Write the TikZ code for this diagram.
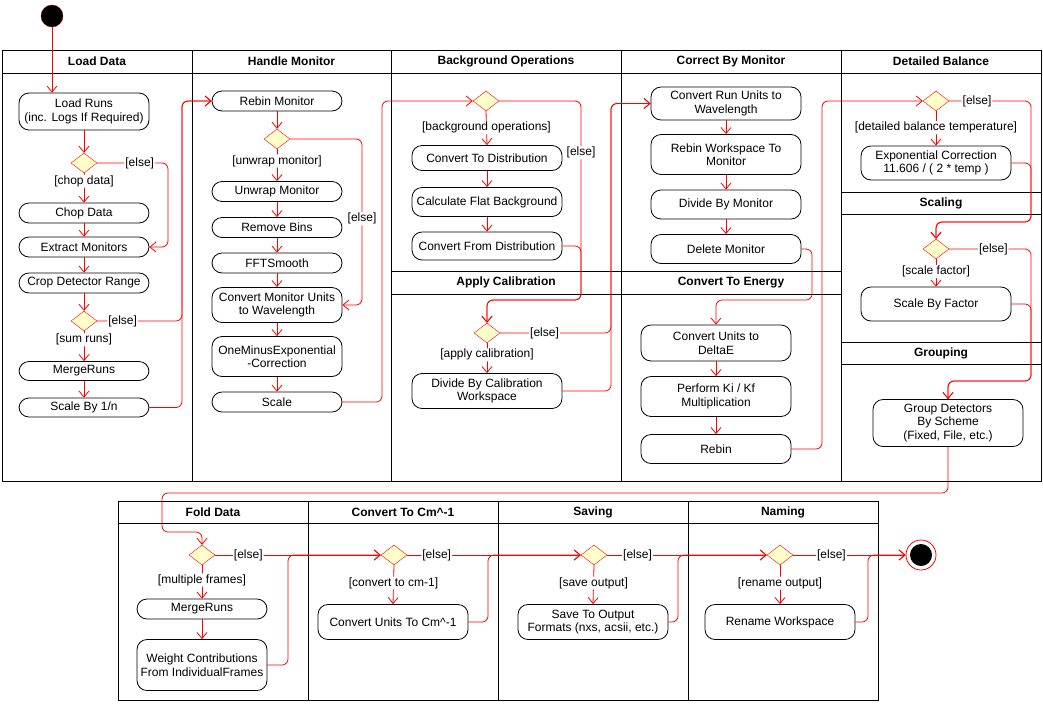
\documentclass[tikz,border=0pt]{standalone}
\usepackage{fontspec}
\setmainfont{Liberation Sans}
\usetikzlibrary{shapes.geometric,arrows.meta}
\definecolor{decfill}{RGB}{255,255,204}

\begin{document}
\begin{tikzpicture}[x=1pt, y=-1pt,
    font=\fontsize{12}{13.5}\selectfont,
    act/.style={draw, line width=0.8pt, rounded corners=10pt, fill=white, align=center, inner sep=1pt, minimum width=150pt},
    dec/.style={diamond, draw=red, fill=decfill, minimum width=26pt, minimum height=20pt, inner sep=0pt},
    flow/.style={draw=red, line width=0.8pt, rounded corners=6pt, -{Straight Barb[length=6pt,width=10pt]}},
    guard/.style={fill=white, text=black, inner sep=1pt},
    lane/.style={draw, line width=0.9pt},
    title/.style={font=\fontsize{12}{13.5}\selectfont\bfseries}]
            \useasboundingbox (0,0) rectangle (1043,705);

            % Top swimlanes
            \draw[lane] (2,50) rectangle (1041,481);
            \draw[lane] (2,73) -- (1041,73);
            \foreach \x in {192,391,621,841} \draw[lane] (\x,50) -- (\x,481);
            \draw[lane] (391,271) -- (841,271) (391,294) -- (841,294);
            \draw[lane] (841,192) -- (1041,192) (841,214) -- (1041,214);
            \draw[lane] (841,342) -- (1041,342) (841,364) -- (1041,364);
            \node[title] (hload) at (97,61.5) {Load Data};
            \node[title] (hmon) at (291.5,61.5) {Handle Monitor};
            \node[title] (hbg) at (506,61.5) {Background Operations};
            \node[title] (hcorr) at (731,61.5) {Correct By Monitor};
            \node[title] (hdb) at (941,61.5) {Detailed Balance};
            \node[title] (hcal) at (506,282.5) {Apply Calibration};
            \node[title] (hen) at (731,282.5) {Convert To Energy};
            \node[title] (hscale) at (941,203) {Scaling};
            \node[title] (hgroup) at (941,353) {Grouping};

            % Bottom swimlanes
            \draw[lane] (118,501) rectangle (878,700);
            \draw[lane] (118,523) -- (878,523);
            \foreach \x in {308,498,688} \draw[lane] (\x,501) -- (\x,700);
            \node[title] (hfold) at (213,512) {Fold Data};
            \node[title] (hcm) at (403,512) {Convert To Cm\textasciicircum-1};
            \node[title] (hsave) at (593,512) {Saving};
            \node[title] (hname) at (783,512) {Naming};

            % Start and end
            \node[circle, fill=black, draw=red!60!black, minimum size=22pt, inner sep=0pt] (start) at (52,16) {};
            \node[circle, draw=red, fill=white, line width=0.8pt, minimum size=30pt, inner sep=0pt] (stop) at (921,555) {};
            \fill (stop.center) circle (11pt);

            % Load Data
            \node[act, minimum width=130pt, minimum height=37pt] (loadruns) at (84,111.5) {Load Runs\\(inc. Logs If Required)};
            \node[dec] (chopdec) at (84,163) {};
            \node[act, minimum width=130pt, minimum height=20pt] (chopdata) at (84,213) {Chop Data};
            \node[act, minimum width=130pt, minimum height=20pt] (extract) at (84,247) {Extract Monitors};
            \node[act, minimum width=130pt, minimum height=20pt] (crop) at (84,283) {Crop Detector Range};
            \node[dec] (sumdec) at (84,321) {};
            \node[act, minimum width=130pt, minimum height=19pt] (merge) at (84,371) {MergeRuns};
            \node[act, minimum width=130pt, minimum height=19pt] (scalen) at (84,407.5) {Scale By 1/n};

            % Handle Monitor
            \node[act, minimum width=130pt, minimum height=20pt] (rebinmon) at (277,101) {Rebin Monitor};
            \node[dec] (unwrapdec) at (277,139) {};
            \node[act, minimum width=130pt, minimum height=20pt] (unwrap) at (277,191.5) {Unwrap Monitor};
            \node[act, minimum width=130pt, minimum height=20pt] (removebins) at (277,227.5) {Remove Bins};
            \node[act, minimum width=130pt, minimum height=20pt] (fftsmooth) at (277,263) {FFTSmooth};
            \node[act, minimum width=130pt, minimum height=35pt] (convmon) at (277,305) {Convert Monitor Units\\to Wavelength};
            \node[act, minimum width=130pt, minimum height=40pt] (oneminus) at (277,356.5) {OneMinusExponential\\-Correction};
            \node[act, minimum width=130pt, minimum height=20pt] (scalemon) at (277,402) {Scale};

            % Background Operations and Apply Calibration
            \node[dec] (bgdec) at (486,101) {};
            \node[act, minimum height=25pt] (todist) at (487,158) {Convert To Distribution};
            \node[act, minimum height=29pt] (flatbg) at (487,202) {Calculate Flat Background};
            \node[act, minimum height=28pt] (fromdist) at (487,246) {Convert From Distribution};
            \node[dec] (caldec) at (487,333) {};
            \node[act, minimum height=35pt] (divcal) at (487,391) {Divide By Calibration\\Workspace};

            % Correct By Monitor and Convert To Energy
            \node[act, minimum height=33pt] (convrun) at (726,103.5) {Convert Run Units to\\Wavelength};
            \node[act, minimum height=40pt] (rebinws) at (726,154.5) {Rebin Workspace To\\Monitor};
            \node[act, minimum height=29pt] (divmon) at (726,204.5) {Divide By Monitor};
            \node[act, minimum height=29pt] (delmon) at (726,249) {Delete Monitor};
            \node[act, minimum height=36pt] (convdeltae) at (716,343) {Convert Units to\\DeltaE};
            \node[act, minimum height=40pt] (kikf) at (716,396.5) {Perform Ki / Kf\\Multiplication};
            \node[act, minimum height=29pt] (rebin) at (716,449) {Rebin};

            % Detailed Balance, Scaling, Grouping
            \node[dec] (dbdec) at (936,101) {};
            \node[act, minimum height=34pt] (expcorr) at (936,163) {Exponential Correction\\11.606 / ( 2 * temp )};
            \node[dec] (scaledec) at (936,249) {};
            \node[act, minimum height=34pt] (scalefac) at (936,304) {Scale By Factor};
            \node[act, minimum height=47pt] (group) at (948,423) {Group Detectors\\By Scheme\\(Fixed, File, etc.)};

            % Fold Data, Convert To Cm^-1, Saving, Naming
            \node[dec] (folddec) at (202,555) {};
            \node[act, minimum width=130pt, minimum height=20pt] (mergefold) at (202,609) {MergeRuns};
            \node[act, minimum width=130pt, minimum height=51pt] (weight) at (202,665) {Weight Contributions\\From IndividualFrames};
            \node[dec] (cmdec) at (394,555) {};
            \node[act, minimum height=35pt] (convcm) at (393,622) {Convert Units To Cm\textasciicircum-1};
            \node[dec] (savedec) at (594,555) {};
            \node[act, minimum height=35pt] (save) at (593,622) {Save To Output\\Formats (nxs, acsii, etc.)};
            \node[dec] (namedec) at (780,555) {};
            \node[act, minimum height=35pt] (rename) at (780,622) {Rename Workspace};

            % Bend points of the flows
            \coordinate (rchop) at (168,247);
            \coordinate (r1) at (182,101);
            \coordinate (r2) at (362,305);
            \coordinate (r3) at (382,101);
            \coordinate (r4) at (581,300);
            \coordinate (r5) at (611,103.5);
            \coordinate (r6) at (812,300);
            \coordinate (r7) at (822,101);
            \coordinate (r8) at (1031,222);
            \coordinate (r9) at (1031,381);
            \coordinate (r10) at (162,493);
            \coordinate (r11) at (162,532);
            \coordinate (r12) at (288,555);
            \coordinate (r13) at (488,555);
            \coordinate (r14) at (678,555);
            \coordinate (r15) at (868,555);

            % Load Data flows
            \draw[flow] (start) -- (start |- loadruns.north);
            \draw[flow] (loadruns.south) -- (chopdec.north);
            \draw[flow] (chopdec.south) -- node[guard, pos=0.27] (gchop) {[chop data]} (chopdata.north);
            \draw[flow] (chopdec.east) -| node[guard, pos=0.3] (echop) {[else]} (rchop) -- (extract.east);
            \draw[flow] (chopdata.south) -- (extract.north);
            \draw[flow] (extract.south) -- (crop.north);
            \draw[flow] (crop.south) -- (sumdec.north);
            \draw[flow] (sumdec.south) -- node[guard, pos=0.29] (gsum) {[sum runs]} (merge.north);
            \draw[flow] (merge.south) -- (scalen.north);
            \draw[flow] (scalen.east) -| (r1) -- (rebinmon.west);
            \draw[flow] (sumdec.east) -| node[guard, pos=0.15] (esum) {[else]} (r1) -- (rebinmon.west);

            % Handle Monitor flows
            \draw[flow] (rebinmon.south) -- (unwrapdec.north);
            \draw[flow] (unwrapdec.south) -- node[guard, pos=0.37] (gunwrap) {[unwrap monitor]} (unwrap.north);
            \draw[flow] (unwrapdec.east) -| node[guard, pos=0.74] (eunwrap) {[else]} (r2) -- (convmon.east);
            \draw[flow] (unwrap.south) -- (removebins.north);
            \draw[flow] (removebins.south) -- (fftsmooth.north);
            \draw[flow] (fftsmooth.south) -- (convmon.north);
            \draw[flow] (convmon.south) -- (oneminus.north);
            \draw[flow] (oneminus.south) -- (scalemon.north);
            \draw[flow] (scalemon.east) -| (r3) -- (bgdec.west);

            % Background and calibration flows
            \draw[flow] (bgdec.south) -- node[guard, pos=0.48] (gbg) {[background operations]} (todist.north);
            \draw[flow] (todist.south) -- (flatbg.north);
            \draw[flow] (flatbg.south) -- (fromdist.north);
            \draw[flow] (fromdist.east) -| (r4) -| (caldec.north);
            \draw[flow] (bgdec.east) -| node[guard, pos=0.63] (ebg) {[else]} (r4) -| (caldec.north);
            \draw[flow] (caldec.south) -- node[guard, pos=0.39] (gcal) {[apply calibration]} (divcal.north);
            \draw[flow] (divcal.east) -| (r5) -- (convrun.west);
            \draw[flow] (caldec.east) -| node[guard, pos=0.2] (ecal) {[else]} (r5) -- (convrun.west);

            % Monitor and energy flows
            \draw[flow] (convrun.south) -- (rebinws.north);
            \draw[flow] (rebinws.south) -- (divmon.north);
            \draw[flow] (divmon.south) -- (delmon.north);
            \draw[flow] (delmon.east) -| (r6) -| (convdeltae.north);
            \draw[flow] (convdeltae.south) -- (kikf.north);
            \draw[flow] (kikf.south) -- (rebin.north);
            \draw[flow] (rebin.east) -| (r7) -- (dbdec.west);

            % Detailed balance, scaling, grouping flows
            \draw[flow] (dbdec.south) -- node[guard, pos=0.48] (gdb) {[detailed balance temperature]} (expcorr.north);
            \draw[flow] (expcorr.east) -| (r8) -| (scaledec.north);
            \draw[flow] (dbdec.east) -| node[guard, pos=0.17] (edb) {[else]} (r8) -| (scaledec.north);
            \draw[flow] (scaledec.south) -- node[guard, pos=0.45] (gscale) {[scale factor]} (scalefac.north);
            \draw[flow] (scalefac.east) -| (r9) -| (group.north);
            \draw[flow] (scaledec.east) -| node[guard, pos=0.27] (escale) {[else]} (r9) -| (group.north);
            \draw[flow] (group.south) |- (r10) -- (r11) -| (folddec.north);

            % Bottom flows
            \draw[flow] (folddec.south) -- node[guard, pos=0.44] (gfold) {[multiple frames]} (mergefold.north);
            \draw[flow] (mergefold.south) -- (weight.north);
            \draw[flow] (weight.east) -| (r12) -- (cmdec.west);
            \draw[flow] (folddec.east) -- node[guard, pos=0.2] (efold) {[else]} (cmdec.west);
            \draw[flow] (cmdec.south) -- node[guard, pos=0.46] (gcm) {[convert to cm-1]} (convcm.north);
            \draw[flow] (convcm.east) -| (r13) -- (savedec.west);
            \draw[flow] (cmdec.east) -- node[guard, pos=0.17] (ecm) {[else]} (savedec.west);
            \draw[flow] (savedec.south) -- node[guard, pos=0.46] (gsave) {[save output]} (save.north);
            \draw[flow] (save.east) -| (r14) -- (namedec.west);
            \draw[flow] (savedec.east) -- node[guard, pos=0.19] (esave) {[else]} (namedec.west);
            \draw[flow] (namedec.south) -- node[guard, pos=0.46] (gname) {[rename output]} (rename.north);
            \draw[flow] (rename.east) -| (r15) -- (stop.west);
            \draw[flow] (namedec.east) -- node[guard, pos=0.34] (ename) {[else]} (stop.west);
        \end{tikzpicture}
\end{document}
